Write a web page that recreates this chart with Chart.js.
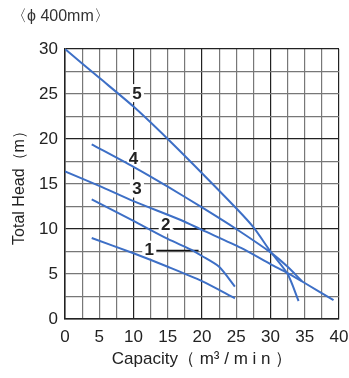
<!DOCTYPE html>
<html><head><meta charset="utf-8">
<script src="https://cdn.jsdelivr.net/npm/chart.js@4/dist/chart.umd.min.js"></script>
<style>html,body{margin:0;padding:0;background:#fff}#w{width:349px;height:378px}</style>
</head><body><div id="w"><canvas id="c"></canvas></div>
<script>
const curve1 = [[3.9,9.0],[10,7.3],[15,5.8],[20,4.2],[24.8,2.3]];
const curve2 = [[3.9,13.3],[10,10.9],[15,8.9],[18.4,7.7],[20,7.0],[22.5,5.8],[24.8,3.6]];
const curve3 = [[0,16.4],[5,14.8],[10,13.1],[16.9,11.0],[20,9.9],[25.7,7.9],[30,6.1],[32.5,5.1],[35,4.0],[39.2,2.1]];
const curve4 = [[3.9,19.4],[10,16.9],[15,14.7],[20,12.4],[25,10.0],[30,7.4],[32.5,5.8],[34.6,4.2]];
const curve5 = [[0,30],[5,26.8],[10,23.6],[15,20.0],[20,16.2],[25,12.3],[27.5,10.2],[30,7.5],[32.5,5.0],[34.1,2.0]];
const curveNames = ['1','2','3','4','5'];
const labelPos = [[12.3,7.7],[14.7,10.5],[10.5,14.5],[10,17.8],[10.5,25.1]];
const leaders = [[13.3,7.6,19.5],[15.9,10,20.5]];
const xTicks = [0,5,10,15,20,25,30,35,40];
const yTicks = [0,5,10,15,20,25,30];
const titleText = '〈ϕ 400mm〉';
const xTitle = 'Capacity（ m³ / m i n ）';
const yTitle = 'Total Head（m）';

const FONT = '"Liberation Sans", Arial, sans-serif';
const BLUE = '#3d6fc6';
const toPts = a => a.map(p => ({x:p[0], y:p[1]}));
const datasets = [curve1,curve2,curve3,curve4,curve5].map(c => ({
  data: toPts(c), showLine:true, borderColor:BLUE, borderWidth:2, pointRadius:0, fill:false, tension:0.25
}));

const labelPlugin = {
  id:'labels',
  beforeDatasetsDraw(chart){
    const ctx = chart.ctx, xs = chart.scales.x, ys = chart.scales.y;
    ctx.save();
    ctx.strokeStyle = '#111'; ctx.lineWidth = 1.5;
    leaders.forEach(l => {
      ctx.beginPath();
      ctx.moveTo(xs.getPixelForValue(l[0]), ys.getPixelForValue(l[1]));
      ctx.lineTo(xs.getPixelForValue(l[2]), ys.getPixelForValue(l[1]));
      ctx.stroke();
    });
    ctx.font = 'bold 17px ' + FONT;
    ctx.textAlign = 'center'; ctx.textBaseline = 'middle';
    labelPos.forEach((p,i) => {
      const px = xs.getPixelForValue(p[0]), py = ys.getPixelForValue(p[1]);
      ctx.fillStyle = '#fff';
      ctx.fillRect(px-7, py-9, 14, 18);
      ctx.fillStyle = '#222';
      ctx.fillText(curveNames[i], px, py+1);
    });
    ctx.fillStyle = '#333';
    ctx.font = '16px ' + FONT;
    ctx.textAlign = 'left';
    ctx.fillText(titleText, 11, 17);
    ctx.restore();
  }
};

const gridColor = ctx => {
  const v = ctx.tick && ctx.tick.value;
  return (v % 10 === 0) ? '#222' : '#777';
};

new Chart(document.getElementById('c'), {
  type:'scatter',
  data:{datasets},
  options:{
    responsive:true, maintainAspectRatio:false, animation:false,
    layout:{padding:{top:49, right:4, left:6, bottom:8}},
    plugins:{legend:{display:false}, tooltip:{enabled:false}},
    scales:{
      x:{
        type:'linear', min:0, max:40,
        afterBuildTicks(s){ s.ticks = []; for(let v=0; v<=40; v+=2.5) s.ticks.push({value:v}); },
        afterFit(s){ s.height = 51; s.paddingRight = 10; },
        ticks:{
          callback:v => xTicks.includes(v) ? String(v) : '',
          color:'#222', font:{size:17, family:FONT}, padding:8, maxRotation:0, autoSkip:false
        },
        grid:{color:gridColor, lineWidth:1.2, drawTicks:false},
        border:{color:'#222', width:1.5},
        title:{display:true, text:xTitle, color:'#222', font:{size:17, family:FONT}, padding:{top:0,bottom:0}}
      },
      y:{
        type:'linear', min:0, max:30,
        afterBuildTicks(s){ s.ticks = []; for(let v=0; v<=30; v+=2.5) s.ticks.push({value:v}); },
        afterFit(s){ s.width = 59; },
        ticks:{
          callback:v => yTicks.includes(v) ? String(v) : '',
          color:'#222', font:{size:17, family:FONT}, padding:7, autoSkip:false
        },
        grid:{color:gridColor, lineWidth:1.2, drawTicks:false},
        border:{color:'#222', width:1.5},
        title:{display:true, text:yTitle, color:'#222', font:{size:16, family:FONT}, padding:{bottom:0}}
      }
    }
  },
  plugins:[labelPlugin]
});
</script>
</body></html>
